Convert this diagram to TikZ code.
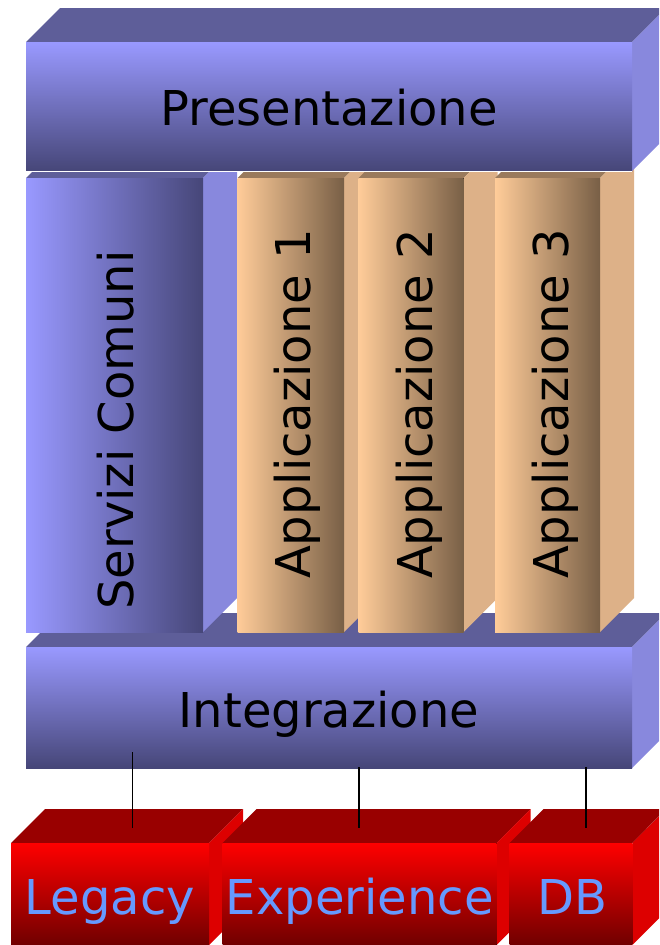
\documentclass[tikz,border=0pt]{standalone}
\usepackage{fontspec}
\setmainfont{DejaVu Sans}
\definecolor{bluelight}{RGB}{153,153,255}
\definecolor{bluedark}{RGB}{70,70,120}
\definecolor{bluetop}{RGB}{94,94,153}
\definecolor{blueside}{RGB}{136,136,221}
\definecolor{peach}{RGB}{255,204,153}
\definecolor{appdark}{RGB}{120,95,70}
\definecolor{apptop}{RGB}{154,122,92}
\definecolor{appside}{RGB}{221,177,136}
\definecolor{redtop}{RGB}{153,0,0}
\definecolor{redside}{RGB}{221,0,0}
\definecolor{redlight}{RGB}{255,0,0}
\definecolor{reddark}{RGB}{112,0,0}
\definecolor{textblue}{RGB}{102,153,255}
\tikzset{
  lbl/.style={inner sep=0pt, font=\fontsize{48}{58}\selectfont},
  vlbl/.style={lbl, rotate=90, anchor=base},
  redlbl/.style={lbl, anchor=base, text=textblue},
  conn/.style={draw=black, line width=1.2pt},
  bluebarfront/.style={top color=bluelight, bottom color=bluedark},
  bluecolfront/.style={left color=bluelight, right color=bluedark},
  appfront/.style={left color=peach, right color=appdark},
  redfront/.style={top color=redlight, bottom color=reddark},
}
\begin{document}
\begin{tikzpicture}[x=1pt,y=-1pt]
\useasboundingbox (0,0) rectangle (659,945);
\clip (0,0) rectangle (659,945);
% Integrazione top (back)
\fill[bluetop] (26,647) -- (60,613) -- (666,613) -- (632,647) -- cycle;
% Servizi Comuni column
\fill[bluetop] (26,178) -- (60,144) -- (237,144) -- (203,178) -- cycle;
\fill[blueside] (203,178) -- (237,144) -- (237,598) -- (203,632) -- cycle;
\fill[bluecolfront] (26,178) rectangle (203,632);
% Applicazione 1
\fill[apptop] (237.5,178) -- (271.5,144) -- (378,144) -- (344,178) -- cycle;
\fill[appside] (344,178) -- (378,144) -- (378,598) -- (344,632) -- cycle;
\fill[appfront] (237.5,178) rectangle (344,632);
% Applicazione 2
\fill[apptop] (358.5,178) -- (392.5,144) -- (497.5,144) -- (463.5,178) -- cycle;
\fill[appside] (463.5,178) -- (497.5,144) -- (497.5,598) -- (463.5,632) -- cycle;
\fill[appfront] (358.5,178) rectangle (463.5,632);
% Applicazione 3
\fill[apptop] (495,178) -- (529,144) -- (634,144) -- (600,178) -- cycle;
\fill[appside] (600,178) -- (634,144) -- (634,598) -- (600,632) -- cycle;
\fill[appfront] (495,178) rectangle (600,632);
% Integrazione front and side
\fill[blueside] (632,647) -- (666,613) -- (666,734) -- (632,768) -- cycle;
\fill[bluebarfront] (26,647) rectangle (632,768);
% Presentazione
\fill[bluetop] (26,42) -- (60,8) -- (666,8) -- (632,42) -- cycle;
\fill[blueside] (632,42) -- (666,8) -- (666,137) -- (632,171) -- cycle;
\fill[bluebarfront] (26,42) rectangle (632,171);
\draw[white, line width=1pt] (26,171.5) -- (632,171.5);
% Legacy
\fill[redtop] (11,843) -- (45,809) -- (243,809) -- (209,843) -- cycle;
\fill[redside] (209,843) -- (243,809) -- (243,911) -- (209,945) -- cycle;
\fill[redfront] (11,843) rectangle (209,945);
% Experience
\fill[redtop] (222.7,843) -- (256.7,809) -- (530.6,809) -- (496.6,843) -- cycle;
\fill[redside] (496.6,843) -- (530.6,809) -- (530.6,911) -- (496.6,945) -- cycle;
\fill[redfront] (222.7,843) rectangle (496.6,945);
% DB
\fill[redtop] (509.7,843) -- (543.7,809) -- (666,809) -- (632.4,843) -- cycle;
\fill[redside] (632.4,843) -- (666.4,809) -- (666.4,911) -- (632.4,945) -- cycle;
\fill[redfront] (509.7,843) rectangle (632.4,945);
% texts
\node[lbl, anchor=base] (pres) at (329,125) {Presentazione};
\node[lbl, anchor=base] (integr) at (329,727) {Integrazione};
\node[vlbl] (serv) at (133,430) {Servizi Comuni};
\node[vlbl] (app1) at (310.5,404) {Applicazione 1};
\node[vlbl] (app2) at (432,404) {Applicazione 2};
\node[vlbl] (app3) at (568,404) {Applicazione 3};
\node[redlbl] (legacy) at (110,914) {Legacy};
\node[redlbl] (exper) at (359.8,914) {Experience};
\node[redlbl] (db) at (572,914) {DB};
% connectors
\coordinate (l1a) at (132.5,752);
\coordinate (l1b) at (132.5,828);
\coordinate (l2a) at (359,767);
\coordinate (l2b) at (359,828);
\coordinate (l3a) at (586,767);
\coordinate (l3b) at (586,828);
\draw[conn] (l1a) -- (l1b);
\draw[conn] (l2a) -- (l2b);
\draw[conn] (l3a) -- (l3b);
\end{tikzpicture}
\end{document}
